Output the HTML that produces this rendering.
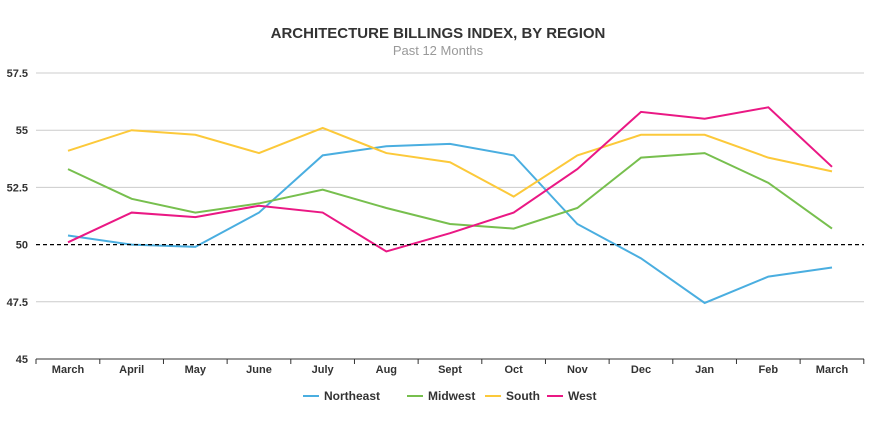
<!DOCTYPE html>
<html><head><meta charset="utf-8"><style>
body{margin:0;background:#fff;font-family:"Liberation Sans",sans-serif}
svg text{font-family:"Liberation Sans",sans-serif}
</style></head><body>
<svg id="c" width="876" height="421"></svg>
<script>
const categories=["March","April","May","June","July","Aug","Sept","Oct","Nov","Dec","Jan","Feb","March"];
const yTicks=[45,47.5,50,52.5,55,57.5];
const yTickLabels=["45","47.5","50","52.5","55","57.5"];
const northeast=[50.4,50.0,49.9,51.4,53.9,54.3,54.4,53.9,50.9,49.4,47.45,48.6,49.0];
const midwest=[53.3,52.0,51.4,51.8,52.4,51.6,50.9,50.7,51.6,53.8,54.0,52.7,50.7];
const south=[54.1,55.0,54.8,54.0,55.1,54.0,53.6,52.1,53.9,54.8,54.8,53.8,53.2];
const west=[50.1,51.4,51.2,51.7,51.4,49.7,50.5,51.4,53.3,55.8,55.5,56.0,53.4];
const seriesNames=["Northeast","Midwest","South","West"];
const seriesData=[northeast,midwest,south,west];
const colors=["#4aaee0","#77bf4e","#fcc93a","#ea1884"];
const svg=document.getElementById('c');const NS="http://www.w3.org/2000/svg";
function mk(t,a,p){const e=document.createElementNS(NS,t);for(const k in a)e.setAttribute(k,a[k]);(p||svg).appendChild(e);return e;}
const L=36,R=864,T=73,B=359;
const y=v=>B-(v-45)/12.5*(B-T);
const x=i=>68+i*(832-68)/(categories.length-1);
let t=mk('text',{x:438,y:38,'text-anchor':'middle','font-size':15,'font-weight':'bold',fill:'#333'});t.textContent="ARCHITECTURE BILLINGS INDEX, BY REGION";


t=mk('text',{x:438,y:55,'text-anchor':'middle','font-size':13,fill:'#999'});t.textContent="Past 12 Months";


yTicks.forEach((v,i)=>{
 if(v!==50&&v!==45){const g=mk('line',{x1:L,x2:R,y1:y(v),y2:y(v),stroke:'#ccc','stroke-width':1});
 
 }
 const l=mk('text',{x:28,y:y(v)+4,'text-anchor':'end','font-size':11,'font-weight':'bold',fill:'#333'});l.textContent=yTickLabels[i];
 
 
});
let ax=mk('line',{x1:L,x2:R,y1:B,y2:B,stroke:'#333','stroke-width':1});


categories.forEach((c,i)=>{
 const tk=mk('line',{x1:x(i)+31.8,x2:x(i)+31.8,y1:B,y2:B+5,stroke:'#333'});
 
 
 const l=mk('text',{x:x(i),y:373,'text-anchor':'middle','font-size':11,'font-weight':'bold',fill:'#333'});l.textContent=c;
 
 
});
let ft=mk('line',{x1:L,x2:R,y1:B,y2:B+5,stroke:'#333'});ft.setAttribute('x2',L);
seriesData.forEach((d,s)=>{
 const p=mk('polyline',{points:d.map((v,i)=>x(i)+','+y(v)).join(' '),fill:'none',stroke:colors[s],'stroke-width':2});
 
 
});
let ref=mk('line',{x1:L,x2:R,y1:y(50),y2:y(50),stroke:'#000','stroke-width':1.2,'stroke-dasharray':'4,3'});


const lx=[303,407,485,547];
seriesNames.forEach((n,s)=>{
 const g=mk('g',{});
 
 
 mk('line',{x1:lx[s],x2:lx[s]+16,y1:396,y2:396,stroke:colors[s],'stroke-width':2},g);
 const l=mk('text',{x:lx[s]+21,y:400,'font-size':12,'font-weight':'bold',fill:'#333'},g);l.textContent=n;
});
</script>
</body></html>
